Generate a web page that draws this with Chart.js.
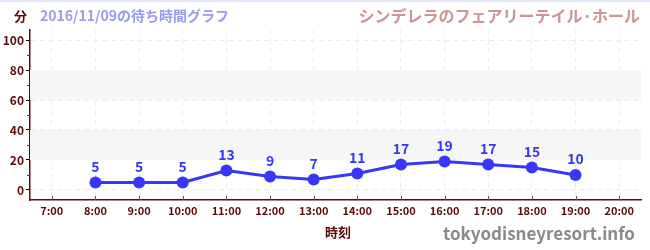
<!DOCTYPE html>
<html>
<head>
<meta charset="utf-8">
<script src="https://cdn.jsdelivr.net/npm/chart.js@4"></script>
<style>
  html, body { margin: 0; padding: 0; background: #fff; }
  #wrap { width: 650px; height: 250px; position: relative; }
</style>
</head>
<body>
<div id="wrap"><canvas id="myChart"></canvas></div>
<script>
const hours = ['7:00', '8:00', '9:00', '10:00', '11:00', '12:00', '13:00', '14:00', '15:00', '16:00', '17:00', '18:00', '19:00', '20:00'];
const waitTimes = [null, 5, 5, 5, 13, 9, 7, 11, 17, 19, 17, 15, 10, null];
const yTicks = [0, 20, 40, 60, 80, 100];
const yMinorTicks = [10, 30, 50, 70, 90];
const bands = [[20, 40], [60, 80]];

const unitLabel = '分';
const subTitle = '2016/11/09の待ち時間グラフ';
const mainTitle = 'シンデレラのフェアリーテイル·ホール';
const xTitle = '時刻';
const credit = 'tokyodisneyresort.info';

const FONT = '"Noto Sans CJK JP", "Noto Sans", sans-serif';
const dark_red = '#5c0a0a';
const line_blue = '#3737f5';

const extras = {
    id: 'extras',
    beforeDatasetsDraw(chart) {
        const ctx = chart.ctx;
        const area = chart.chartArea;
        const y = chart.scales.y;
        ctx.save();
        ctx.fillStyle = '#f6f6f6';
        bands.forEach(b => {
            const top = y.getPixelForValue(b[1]);
            const bot = y.getPixelForValue(b[0]);
            ctx.fillRect(area.left, top, area.right - area.left, bot - top);
        });
        ctx.restore();
    },
    afterDraw(chart) {
        const ctx = chart.ctx;
        const area = chart.chartArea;
        const x = chart.scales.x;
        const y = chart.scales.y;
        ctx.save();
        // top line
        ctx.fillStyle = '#e2e2fa';
        ctx.fillRect(0, 0, 650, 2);
        // minor y ticks
        ctx.strokeStyle = '#d00000';
        ctx.lineWidth = 1;
        yMinorTicks.forEach(v => {
            const py = Math.round(y.getPixelForValue(v)) + 0.5;
            ctx.beginPath();
            ctx.moveTo(area.left - 3, py);
            ctx.lineTo(area.left, py);
            ctx.stroke();
        });
        // x ticks inside axis
        ctx.strokeStyle = '#555';
        hours.forEach((h, i) => {
            const px = Math.round(x.getPixelForValue(i)) + 0.5;
            ctx.beginPath();
            ctx.moveTo(px, area.bottom);
            ctx.lineTo(px, area.bottom - 4);
            ctx.stroke();
        });
        // data labels
        const meta = chart.getDatasetMeta(0);
        ctx.fillStyle = line_blue;
        ctx.font = 'bold 14px ' + FONT;
        ctx.textAlign = 'center';
        ctx.textBaseline = 'middle';
        meta.data.forEach((pt, i) => {
            if (waitTimes[i] == null) return;
            ctx.fillText(String(waitTimes[i]), pt.x, pt.y - 16);
        });
        // titles
        ctx.textAlign = 'left';
        ctx.fillStyle = dark_red;
        ctx.font = 'bold 13px ' + FONT;
        ctx.fillText(unitLabel, 14, 16);
        ctx.fillStyle = '#9a9af0';
        ctx.font = 'bold 14px ' + FONT;
        ctx.fillText(subTitle, 40, 16);
        ctx.textAlign = 'right';
        ctx.fillStyle = '#c99595';
        ctx.font = 'bold 16px ' + FONT;
        ctx.fillText(mainTitle, 640, 16);
        ctx.fillStyle = '#8a8a8a';
        ctx.font = 'bold 17px ' + FONT;
        ctx.fillText(credit, 635, 234);
        ctx.textAlign = 'center';
        ctx.fillStyle = dark_red;
        ctx.font = 'bold 13px ' + FONT;
        ctx.fillText(xTitle, 338, 232);
        ctx.restore();
    }
};

function draw_chart() {
    const ctx = document.getElementById('myChart');
    new Chart(ctx, {
        type: 'line',
        data: {
            labels: hours,
            datasets: [{
                data: waitTimes,
                borderColor: line_blue,
                backgroundColor: line_blue,
                borderWidth: 3,
                pointRadius: 6,
                pointHoverRadius: 6,
                pointBorderWidth: 0,
                tension: 0,
                spanGaps: false
            }]
        },
        options: {
            responsive: true,
            maintainAspectRatio: false,
            animation: false,
            layout: {
                padding: { top: 30, right: 9, left: 0, bottom: 0 }
            },
            plugins: {
                legend: { display: false },
                tooltip: { enabled: false }
            },
            scales: {
                x: {
                    type: 'category',
                    offset: true,
                    afterFit: s => { s.height = 50; },
                    grid: {
                        color: '#ececec',
                        drawTicks: false,
                        offset: false
                    },
                    border: {
                        color: dark_red,
                        width: 1.5,
                        dash: [5, 4]
                    },
                    ticks: {
                        color: dark_red,
                        padding: 4,
                        maxRotation: 0,
                        autoSkip: false,
                        font: { family: FONT, size: 11, weight: 'bold' }
                    }
                },
                y: {
                    min: -6.7,
                    max: 106.7,
                    afterFit: s => { s.width = 30; },
                    afterBuildTicks: s => { s.ticks = yTicks.map(v => ({ value: v })); },
                    grid: {
                        color: '#ececec',
                        tickColor: '#000',
                        tickLength: 4
                    },
                    border: {
                        color: dark_red,
                        width: 1.5,
                        dash: [5, 4]
                    },
                    ticks: {
                        color: dark_red,
                        padding: 2,
                        font: { family: FONT, size: 12, weight: 'bold' }
                    }
                }
            }
        },
        plugins: [extras]
    });
}
draw_chart();
</script>
</body>
</html>
